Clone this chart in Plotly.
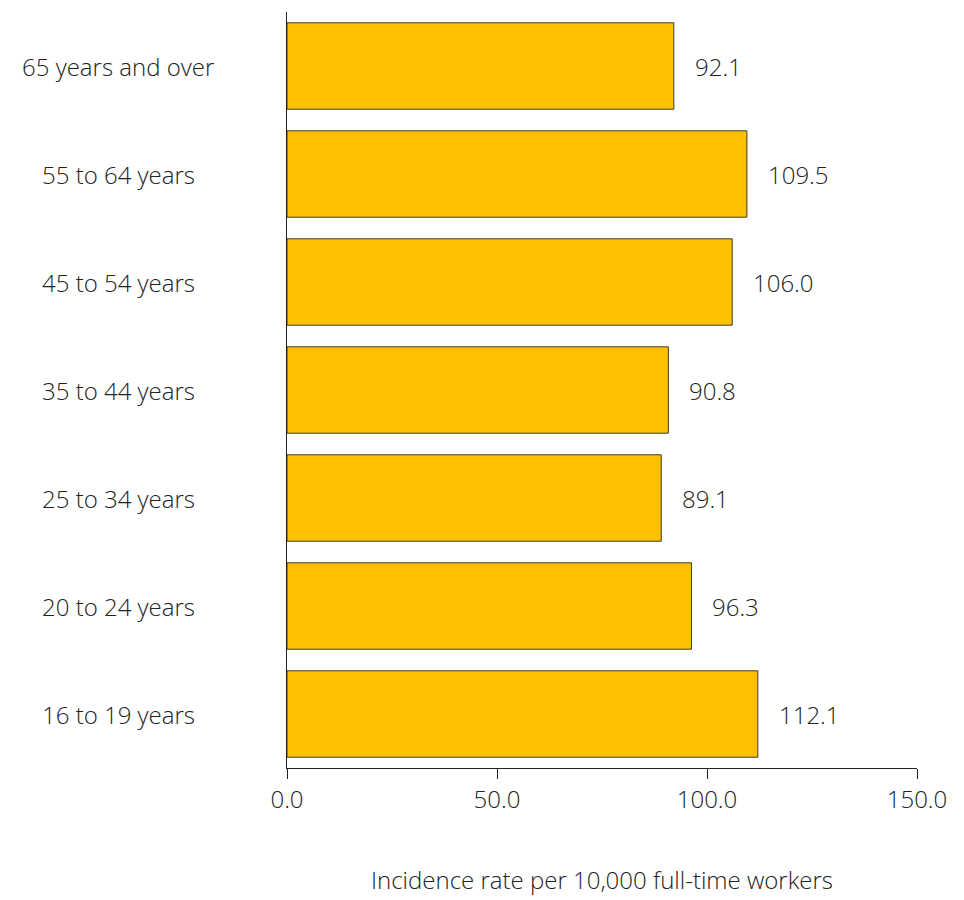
import plotly.graph_objects as go

categories = ["16 to 19 years", "20 to 24 years", "25 to 34 years", "35 to 44 years",
              "45 to 54 years", "55 to 64 years", "65 years and over"]
values = [112.1, 96.3, 89.1, 90.8, 106.0, 109.5, 92.1]
value_labels = ["112.1", "96.3", "89.1", "90.8", "106.0", "109.5", "92.1"]
x_ticks = [0, 50, 100, 150]
x_tick_labels = ["0.0", "50.0", "100.0", "150.0"]
x_title = "Incidence rate per 10,000 full-time workers"

FONT = "Open Sans"
TXT = "#222222"
FS = 24

fig = go.Figure()
fig.add_trace(go.Bar(
    x=values, y=categories, orientation="h",
    marker=dict(color="#FFC000", line=dict(color="#3a3a3a", width=1)),
    width=0.8, hoverinfo="skip",
))

annotations = []
for c, v, t in zip(categories, values, value_labels):
    annotations.append(dict(x=v, y=c, xref="x", yref="y", text=t, showarrow=False,
                            xanchor="left", xshift=19,
                            font=dict(family=FONT, size=FS, color=TXT, weight=300)))
for c in categories:
    annotations.append(dict(x=-0.268, y=c, xref="paper", yref="y", text=c, showarrow=False,
                            xanchor="center",
                            font=dict(family=FONT, size=FS, color=TXT, weight=300)))
annotations.append(dict(x=0.5, y=-0.147, xref="paper", yref="paper", text=x_title,
                        showarrow=False, xanchor="center", yanchor="middle",
                        font=dict(family=FONT, size=FS, color=TXT, weight=300)))

fig.update_layout(
    width=956, height=892,
    margin=dict(l=279, r=47, t=4, b=132),
    plot_bgcolor="white", paper_bgcolor="white",
    showlegend=False,
    bargap=0.2,
    annotations=annotations,
    xaxis=dict(range=[0, 150], tickvals=x_ticks, ticktext=x_tick_labels,
               showgrid=False, zeroline=False, showline=True, linecolor="#222222", linewidth=1,
               ticks="outside", ticklen=10, tickcolor="#222222",
               tickfont=dict(family=FONT, size=FS, color=TXT, weight=300)),
    yaxis=dict(showticklabels=False, showgrid=False, zeroline=False,
               showline=True, linecolor="#222222", linewidth=1, ticks="",
               range=[-0.5, 6.5]),
)

fig.write_html("out.html")
